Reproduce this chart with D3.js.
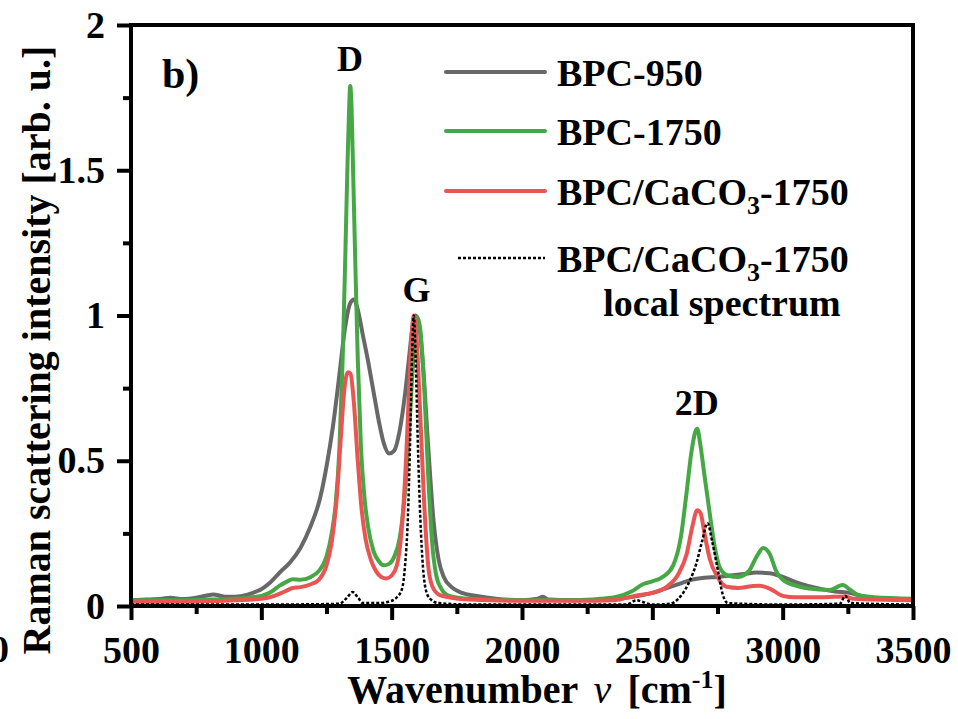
<!DOCTYPE html>
<head>
  <meta charset="utf-8">
  <script src="https://d3js.org/d3.v7.min.js"></script>
  <style>
    body { margin:0; background:#fff; }
    text { font-family: "Liberation Serif", "Times New Roman", serif; font-weight: bold; fill:#000; }
  </style>
</head>

<body>
  <script>
    // spectra: [wavenumber, intensity]
    var bpc950 = [[500,0.02],[560,0.022],[620,0.025],[650,0.028],[700,0.024],[760,0.03],[815,0.04],[860,0.032],[900,0.032],[944,0.038],[980,0.05],[1000,0.058],[1033,0.08],[1070,0.115],[1110,0.15],[1150,0.2],[1187,0.27],[1225,0.37],[1250,0.48],[1275,0.62],[1300,0.8],[1320,0.95],[1340,1.04],[1355,1.055],[1370,1.02],[1390,0.93],[1410,0.84],[1430,0.74],[1450,0.64],[1470,0.56],[1490,0.525],[1510,0.535],[1530,0.6],[1550,0.72],[1565,0.84],[1580,0.96],[1592,1.0],[1605,0.97],[1620,0.83],[1640,0.55],[1660,0.3],[1680,0.16],[1700,0.1],[1730,0.065],[1770,0.045],[1820,0.035],[1900,0.025],[2000,0.02],[2060,0.025],[2080,0.032],[2100,0.022],[2200,0.02],[2300,0.02],[2400,0.028],[2500,0.045],[2550,0.06],[2600,0.075],[2650,0.09],[2700,0.097],[2750,0.1],[2800,0.105],[2850,0.11],[2900,0.115],[2950,0.113],[3000,0.1],[3050,0.082],[3100,0.068],[3150,0.058],[3200,0.05],[3260,0.045],[3300,0.035],[3400,0.025],[3500,0.022]];

    var bpc1750 = [[500,0.02],[600,0.02],[700,0.02],[800,0.022],[900,0.025],[1000,0.035],[1040,0.05],[1070,0.07],[1100,0.085],[1120,0.092],[1150,0.09],[1190,0.1],[1220,0.12],[1250,0.17],[1270,0.25],[1285,0.35],[1300,0.55],[1312,0.85],[1322,1.2],[1330,1.5],[1337,1.72],[1341,1.79],[1346,1.72],[1352,1.5],[1360,1.2],[1370,0.85],[1382,0.55],[1395,0.38],[1410,0.27],[1430,0.19],[1450,0.155],[1470,0.14],[1490,0.145],[1510,0.17],[1530,0.23],[1550,0.38],[1570,0.65],[1585,0.88],[1598,0.995],[1610,0.95],[1625,0.75],[1640,0.45],[1655,0.22],[1670,0.11],[1690,0.06],[1720,0.035],[1800,0.025],[2000,0.02],[2200,0.02],[2300,0.025],[2364,0.032],[2420,0.05],[2464,0.075],[2500,0.085],[2540,0.1],[2580,0.14],[2610,0.24],[2630,0.38],[2650,0.53],[2665,0.6],[2672,0.61],[2685,0.55],[2700,0.45],[2720,0.32],[2740,0.2],[2760,0.13],[2790,0.105],[2830,0.1],[2870,0.12],[2900,0.17],[2925,0.2],[2950,0.18],[2975,0.12],[3000,0.09],[3050,0.07],[3100,0.06],[3180,0.055],[3230,0.072],[3260,0.055],[3290,0.038],[3350,0.03],[3500,0.025]];

    var caco1750 = [[500,0.015],[600,0.015],[700,0.015],[800,0.017],[900,0.02],[1000,0.025],[1050,0.035],[1090,0.05],[1120,0.062],[1150,0.065],[1190,0.075],[1220,0.09],[1250,0.14],[1270,0.22],[1290,0.38],[1305,0.58],[1318,0.74],[1332,0.805],[1342,0.8],[1355,0.7],[1370,0.5],[1385,0.33],[1400,0.23],[1420,0.16],[1440,0.12],[1460,0.1],[1480,0.095],[1500,0.105],[1520,0.14],[1540,0.28],[1555,0.5],[1567,0.75],[1578,0.95],[1585,1.0],[1595,0.93],[1610,0.65],[1625,0.35],[1640,0.14],[1655,0.07],[1680,0.04],[1720,0.03],[1800,0.022],[2000,0.018],[2200,0.018],[2350,0.02],[2400,0.028],[2452,0.038],[2500,0.045],[2555,0.066],[2600,0.11],[2632,0.18],[2655,0.28],[2672,0.33],[2685,0.32],[2700,0.25],[2721,0.16],[2750,0.1],[2785,0.066],[2830,0.062],[2880,0.068],[2910,0.07],[2950,0.06],[3000,0.035],[3050,0.03],[3150,0.03],[3240,0.033],[3270,0.025],[3500,0.02]];

    var localSpec = [[500,0.005],[800,0.005],[1000,0.005],[1200,0.006],[1300,0.008],[1330,0.03],[1350,0.048],[1370,0.03],[1390,0.01],[1450,0.01],[1490,0.015],[1520,0.03],[1540,0.06],[1551,0.135],[1562,0.3],[1570,0.54],[1578,0.85],[1585,1.0],[1592,0.85],[1601,0.54],[1610,0.3],[1620,0.135],[1630,0.06],[1647,0.025],[1680,0.01],[1800,0.005],[2000,0.005],[2400,0.005],[2440,0.02],[2460,0.015],[2500,0.005],[2570,0.008],[2600,0.025],[2640,0.08],[2670,0.15],[2690,0.22],[2712,0.285],[2730,0.22],[2750,0.13],[2770,0.04],[2790,0.01],[3000,0.005],[3220,0.008],[3240,0.035],[3260,0.01],[3500,0.005]];

    var xMajor = [500, 1000, 1500, 2000, 2500, 3000, 3500];
    var xMinor = [750, 1250, 1750, 2250, 2750, 3250];
    var yMajor = [0, 0.5, 1, 1.5, 2];
    var yMinor = [0.25, 0.75, 1.25, 1.75];

    var peakNames = ['D', 'G', '2D'];
    var peakPos = [[1340, 1.84], [1595, 1.046], [2670, 0.657]];

    var seriesNames = ['BPC-950', 'BPC-1750', 'BPC/CaCO3-1750', 'BPC/CaCO3-1750'];
    var seriesColors = ['#686868', '#45a845', '#e85552', '#000'];

    var width = 958, height = 719;
    var margin = {left: 131, top: 25, right: 45, bottom: 113};

    var svg = d3.select('body').append('svg')
      .attr('width', width)
      .attr('height', height);

    var x = d3.scaleLinear().domain([500, 3500]).range([margin.left, width - margin.right]);
    var y = d3.scaleLinear().domain([0, 2]).range([height - margin.bottom, margin.top]);

    var line = d3.line()
      .x(d => x(d[0]))
      .y(d => y(d[1]))
      .curve(d3.curveMonotoneX);

    var allSeries = [bpc950, bpc1750, caco1750, localSpec];

    svg.append('g').selectAll('path')
      .data(allSeries)
      .enter().append('path')
      .attr('d', line)
      .attr('fill', 'none')
      .attr('stroke', (d, i) => seriesColors[i])
      .attr('stroke-width', (d, i) => i == 3 ? 2.5 : 4)
      .attr('stroke-dasharray', (d, i) => i == 3 ? '3,2' : null)
      .attr('stroke-linejoin', 'round');

    // axes
    function styleAxis(g) {
      g.select('.domain').remove();
      g.selectAll('line').attr('stroke', '#000').attr('stroke-width', 4);
      g.selectAll('text').style('font-size', '38px');
    }

    svg.append('g')
      .attr('transform', 'translate(0,' + y(0) + ')')
      .call(d3.axisBottom(x).tickValues(xMinor).tickSize(8).tickFormat(''))
      .call(styleAxis);
    svg.append('g')
      .attr('transform', 'translate(0,' + y(0) + ')')
      .call(d3.axisBottom(x).tickValues(xMajor).tickSize(14).tickPadding(16).tickFormat(d3.format('d')))
      .call(styleAxis);

    svg.append('g')
      .attr('transform', 'translate(' + x(500) + ',0)')
      .call(d3.axisLeft(y).tickValues(yMinor).tickSize(8).tickFormat(''))
      .call(styleAxis);
    svg.append('g')
      .attr('transform', 'translate(' + x(500) + ',0)')
      .call(d3.axisLeft(y).tickValues(yMajor).tickSize(14).tickPadding(12).tickFormat(d => String(d)))
      .call(styleAxis);

    // frame
    svg.append('rect')
      .attr('x', x(500)).attr('y', y(2))
      .attr('width', x(3500) - x(500)).attr('height', y(0) - y(2))
      .attr('fill', 'none').attr('stroke', '#000').attr('stroke-width', 4);

    // axis titles
    var xt = svg.append('text')
      .attr('x', 537).attr('y', 703)
      .attr('text-anchor', 'middle')
      .style('font-size', '40px')
      .style('word-spacing', '6px');
    xt.append('tspan').text('Wavenumber ');
    xt.append('tspan').style('font-style', 'italic').style('font-weight', 'normal').text('ν');
    xt.append('tspan').text(' [cm');
    xt.append('tspan').attr('dy', -15).style('font-size', '26px').text('-1');
    xt.append('tspan').attr('dy', 15).text(']');

    svg.append('text')
      .attr('transform', 'translate(50,' + 350 + ') rotate(-90)')
      .attr('text-anchor', 'middle')
      .style('font-size', '40px')
      .text('Raman scattering intensity [arb. u.]');

    // leftover digit from the neighbouring panel
    svg.append('text')
      .attr('x', 9).attr('y', 662)
      .attr('text-anchor', 'end')
      .style('font-size', '38px')
      .text('0');

    // panel label
    svg.append('text')
      .attr('x', 162).attr('y', 88)
      .style('font-size', '42px')
      .text('b)');

    // peak labels
    svg.append('g').selectAll('text')
      .data(peakNames)
      .enter().append('text')
      .attr('x', (d, i) => x(peakPos[i][0]))
      .attr('y', (d, i) => y(peakPos[i][1]))
      .attr('text-anchor', 'middle')
      .style('font-size', '36px')
      .text(d => d);

    // legend
    var legY = [72, 131, 191, 258];
    var leg = svg.append('g');
    seriesNames.forEach(function(name, i) {
      leg.append('line')
        .attr('x1', i == 3 ? 458 : 446).attr('x2', 545)
        .attr('y1', legY[i]).attr('y2', legY[i])
        .attr('stroke', seriesColors[i])
        .attr('stroke-width', i == 3 ? 2.5 : 4)
        .attr('stroke-dasharray', i == 3 ? '3,2' : null)
        .attr('stroke-linecap', i == 3 ? 'butt' : 'round');
      var t = leg.append('text')
        .attr('x', 557).attr('y', legY[i] + 14)
        .style('font-size', '38px');
      var parts = name.split('3');
      if (parts.length > 1) {
        t.append('tspan').text(parts[0]);
        t.append('tspan').attr('dy', 9).style('font-size', '26px').text('3');
        t.append('tspan').attr('dy', -9).text(parts[1]);
      } else {
        t.text(name);
      }
    });
    leg.append('text')
      .attr('x', 722).attr('y', 316)
      .attr('text-anchor', 'middle')
      .style('font-size', '38px')
      .text('local spectrum');
  </script>
</body>
